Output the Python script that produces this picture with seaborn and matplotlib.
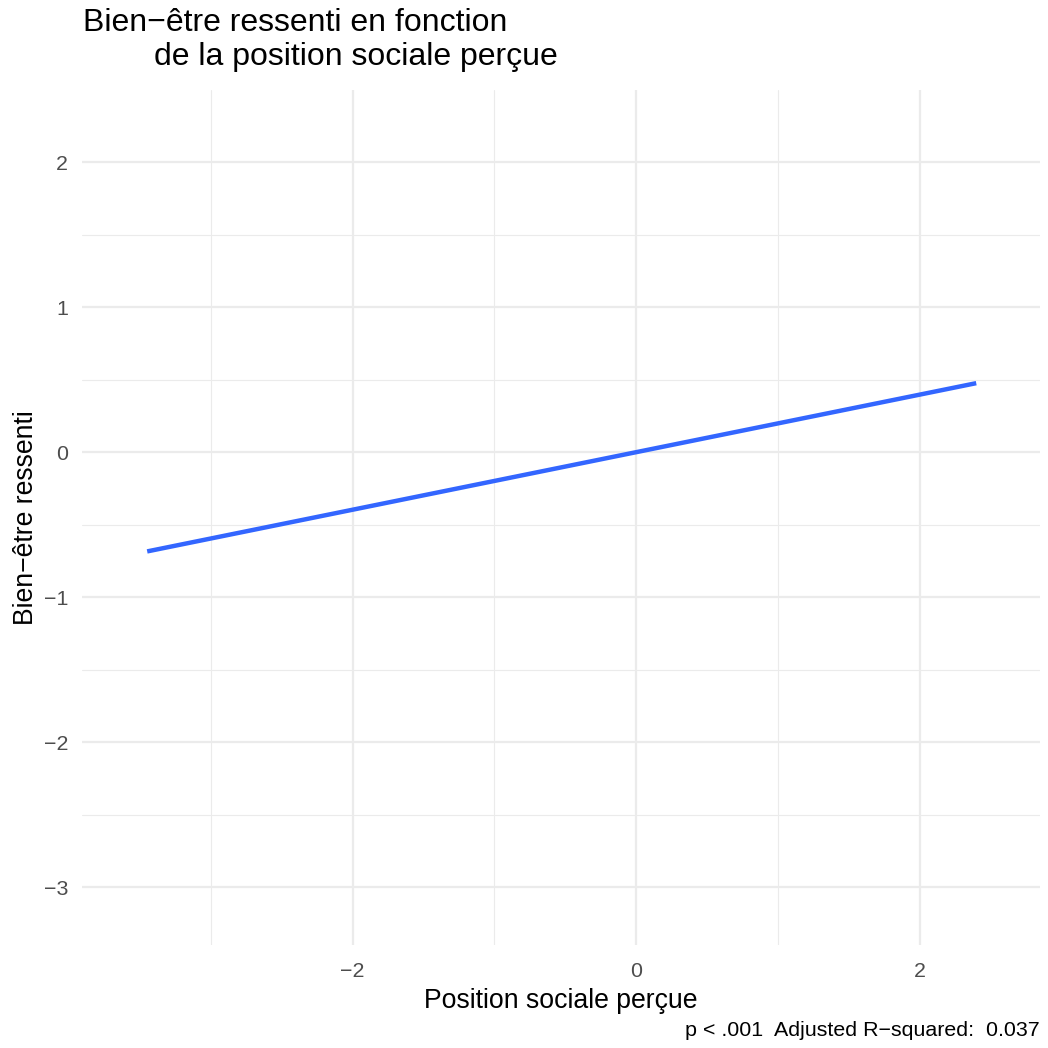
import matplotlib
matplotlib.use("Agg")
import matplotlib.pyplot as plt
import seaborn as sns
import pandas as pd
from matplotlib.ticker import FixedLocator

# Fitted regression line endpoints (range of the observed predictor)
position_sociale = [-3.45, 2.40]
bien_etre = [-0.684, 0.477]

x_ticks = [-2, 0, 2]
y_ticks = [-3, -2, -1, 0, 1, 2]
x_minor = [-3, -1, 1]
y_minor = [-2.5, -1.5, -0.5, 0.5, 1.5]

sns.set_theme(style="whitegrid")
plt.rcParams["font.family"] = ["Liberation Sans", "DejaVu Sans"]

df = pd.DataFrame({"x": position_sociale, "y": bien_etre})

fig = plt.figure(figsize=(10.48, 10.48), dpi=100)
W = H = 1048
ax = fig.add_axes([82 / W, 1 - 945 / H, (1040 - 82) / W, (945 - 90) / H])

sns.lineplot(data=df, x="x", y="y", ax=ax, color="#3366FF", linewidth=3.2,
             solid_capstyle="butt", zorder=3)

ax.set_xlim(-3.91, 2.85)
ax.set_ylim(-3.4, 2.5)
ax.set_xticks(x_ticks)
ax.set_yticks(y_ticks)
ax.set_xticklabels([str(v).replace("-", "\u2212") for v in x_ticks])
ax.set_yticklabels([str(v).replace("-", "\u2212") for v in y_ticks])
ax.xaxis.set_minor_locator(FixedLocator(x_minor))
ax.yaxis.set_minor_locator(FixedLocator(y_minor))

ax.set_facecolor("white")
for s in ax.spines.values():
    s.set_visible(False)
ax.grid(which="major", color="#EBEBEB", linewidth=1.6)
ax.grid(which="minor", color="#EBEBEB", linewidth=0.8)
ax.tick_params(which="both", length=0)
ax.tick_params(axis="both", labelsize=15.4, labelcolor="#4D4D4D")
ax.tick_params(axis="x", pad=12)
ax.tick_params(axis="y", pad=10)

ax.set_xlabel("Position sociale perçue", fontsize=19.2, color="black", labelpad=5.5)
ax.set_ylabel("Bien\u2212être ressenti", fontsize=19.2, color="black", labelpad=3)

fig.text(83 / W, 1 - 8 / H,
         "Bien\u2212être ressenti en fonction\n        de la position sociale perçue",
         fontsize=23, color="black", ha="left", va="top", linespacing=1.17)
fig.text(1040 / W, 1 - 1030 / H, "p < .001  Adjusted R\u2212squared:  0.037",
         fontsize=15.4, color="black", ha="right", va="center")

fig.savefig("out.png", dpi=100, facecolor="white")
